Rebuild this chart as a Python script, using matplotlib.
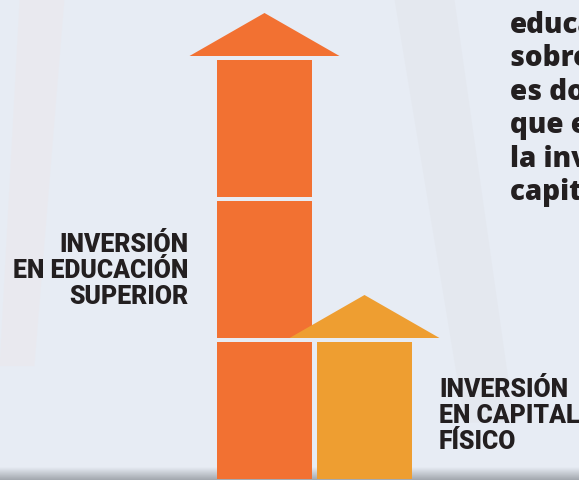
import numpy as np
import matplotlib
matplotlib.use("Agg")
import matplotlib.pyplot as plt
from matplotlib.patches import Rectangle, Polygon

# ---- data ----
categories = ["INVERSIÓN\nEN EDUCACIÓN\nSUPERIOR", "INVERSIÓN\nEN CAPITAL\nFÍSICO"]
blocks = [3, 1]                      # stacked units per column
colors = ["#f27132", "#ee9e31"]
side_text = ["educación", "sobre el", "es dos veces", "que el de", "la inversión en", "capital físico"]

W, H = 579, 481
fig = plt.figure(figsize=(W / 100, H / 100), dpi=100)
fig.patch.set_facecolor("#e7ecf4")
ax = fig.add_axes([0, 0, 1, 1])
ax.set_facecolor("#e7ecf4")

# axis scales: 1 x unit = 100 px, 1 y unit = 141 px
x0_px, y0_px = 264.5, 480.0
ux, uy = 100.0, 141.0
ax.set_xlim(-x0_px / ux, (W - x0_px) / ux)
ax.set_ylim((y0_px - H) / uy, y0_px / uy)
ax.axis("off")

# subtle background streaks
ax.add_patch(Polygon([[-2.45, 3.4], [-2.0, 3.4], [-2.3, 0.8], [-2.65, 0.8]], closed=True,
                     facecolor="#ebe8ec", edgecolor="none", alpha=0.5, zorder=0))
ax.add_patch(Polygon([[1.3, 3.4], [1.9, 3.4], [2.5, 0.4], [2.0, 0.4]], closed=True,
                     facecolor="#e2e5eb", edgecolor="none", alpha=0.5, zorder=0))

# bottom shadow gradient
grad = np.linspace(0, 1, 50).reshape(-1, 1)
ax.imshow(grad, extent=[ax.get_xlim()[0], ax.get_xlim()[1], (y0_px - H) / uy, (y0_px - 468) / uy],
          cmap=matplotlib.colors.LinearSegmentedColormap.from_list("sh", ["#a2a7ae", "#e7ecf4"]),
          aspect="auto", origin="lower", zorder=0.5)

bar_w = 0.95
head_w = 1.5
head_h = 43 / uy
gap = 4 / uy
for i, (n, c) in enumerate(zip(blocks, colors)):
    for k in range(n):
        ax.add_patch(Rectangle((i - bar_w / 2, k), bar_w, 1 - gap, facecolor=c,
                               edgecolor="none", zorder=2))
    ax.add_patch(Polygon([[i - head_w / 2, n], [i + head_w / 2, n], [i, n + head_h]],
                         closed=True, facecolor=c, edgecolor="none", zorder=3))

font = "Roboto"
tc = "#231f20"
fig.text(188 / W, 1 - 271 / H, categories[0], ha="right", va="center", fontsize=17.8,
         fontweight="black", family=font, color=tc, linespacing=1.08)
fig.text(439 / W, 1 - 416 / H, categories[1], ha="left", va="center", fontsize=17.8,
         fontweight="black", family=font, color=tc, linespacing=1.08)

fig.text(510 / W, 1 - 11 / H, "\n".join(side_text), ha="left", va="top", fontsize=20,
         fontweight="extra bold", family="Open Sans", color=tc, linespacing=1.2)

fig.savefig("out.png", dpi=100, facecolor=fig.get_facecolor())
